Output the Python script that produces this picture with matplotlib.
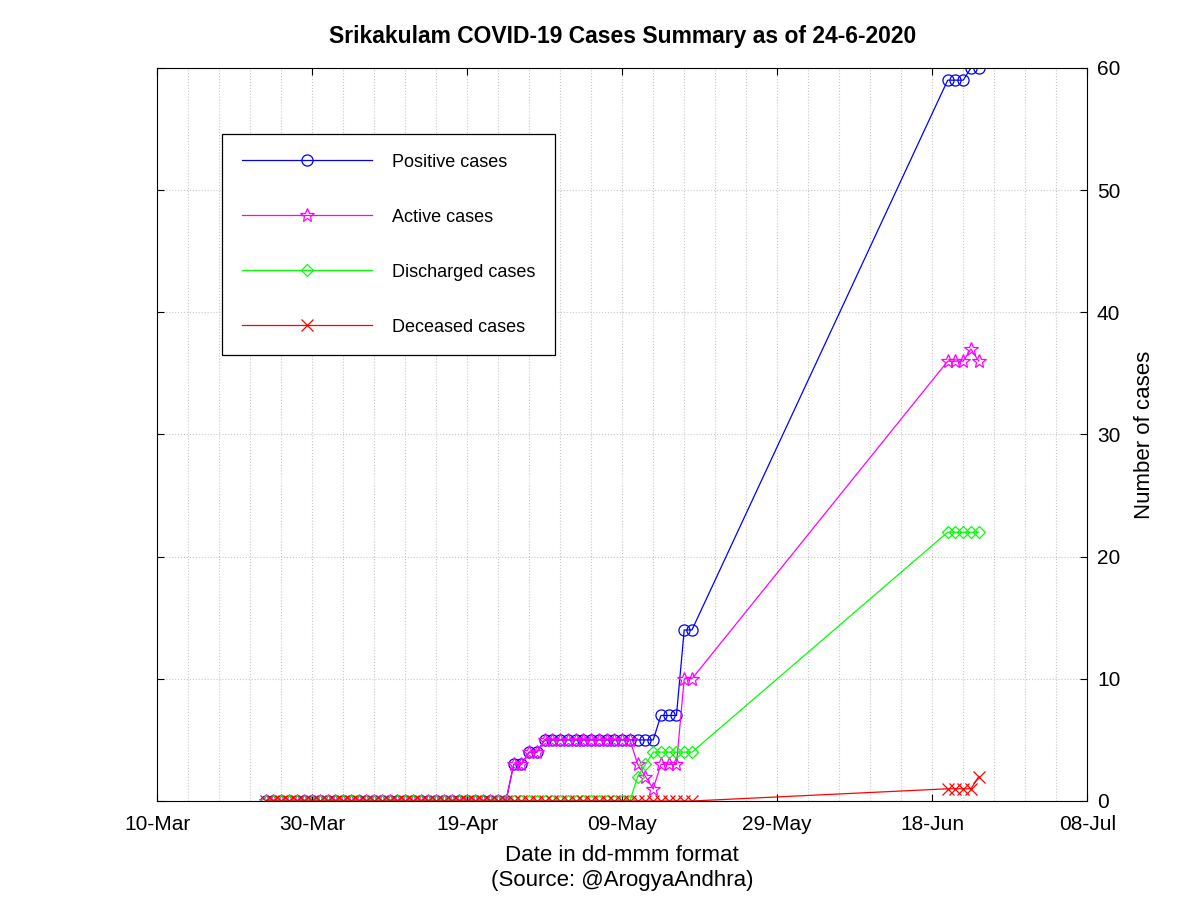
import matplotlib
matplotlib.use('Agg')
import matplotlib.pyplot as plt
import matplotlib.dates as mdates
import pandas as pd

plt.rcParams['font.family'] = ['Liberation Sans', 'DejaVu Sans']

# dates reported (daily 24-Mar..18-May, then 20-Jun..24-Jun)
dates = list(pd.date_range('2020-03-24', '2020-05-18')) + list(pd.date_range('2020-06-20', '2020-06-24'))

positive = [0, 0, 0, 0, 0, 0, 0, 0, 0, 0, 0, 0, 0, 0, 0, 0,
            0, 0, 0, 0, 0, 0, 0, 0, 0, 0, 0, 0, 0, 0, 0, 0,
            3, 3, 4, 4,
            5, 5, 5, 5, 5, 5, 5, 5, 5, 5, 5, 5, 5, 5, 5,
            7, 7, 7, 14, 14,
            59, 59, 59, 60, 60]
active = [0, 0, 0, 0, 0, 0, 0, 0, 0, 0, 0, 0, 0, 0, 0, 0,
          0, 0, 0, 0, 0, 0, 0, 0, 0, 0, 0, 0, 0, 0, 0, 0,
          3, 3, 4, 4,
          5, 5, 5, 5, 5, 5, 5, 5, 5, 5, 5, 5, 3, 2, 1,
          3, 3, 3, 10, 10,
          36, 36, 36, 37, 36]
discharged = [0, 0, 0, 0, 0, 0, 0, 0, 0, 0, 0, 0, 0, 0, 0, 0,
              0, 0, 0, 0, 0, 0, 0, 0, 0, 0, 0, 0, 0, 0, 0, 0,
              0, 0, 0, 0,
              0, 0, 0, 0, 0, 0, 0, 0, 0, 0, 0, 0, 2, 3, 4,
              4, 4, 4, 4, 4,
              22, 22, 22, 22, 22]
deceased = [0, 0, 0, 0, 0, 0, 0, 0, 0, 0, 0, 0, 0, 0, 0, 0,
            0, 0, 0, 0, 0, 0, 0, 0, 0, 0, 0, 0, 0, 0, 0, 0,
            0, 0, 0, 0,
            0, 0, 0, 0, 0, 0, 0, 0, 0, 0, 0, 0, 0, 0, 0,
            0, 0, 0, 0, 0,
            1, 1, 1, 1, 2]

fig = plt.figure(figsize=(12, 9), dpi=100)
ax = fig.add_axes([0.131, 0.110, 0.775, 0.8145])

ax.plot(dates, positive, color='blue', lw=0.9, marker='o', ms=8, mfc='none', mew=0.9, label='Positive cases')
ax.plot(dates, active, color='magenta', lw=0.9, marker='*', ms=10, mfc='none', mew=0.9, label='Active cases')
ax.plot(dates, discharged, color='lime', lw=0.9, marker='D', ms=6.5, mfc='none', mew=0.9, label='Discharged cases')
ax.plot(dates, deceased, color='red', lw=0.9, marker='x', ms=8, mew=0.9, label='Deceased cases')

ax.set_xlim(pd.Timestamp('2020-03-10'), pd.Timestamp('2020-07-08'))
ax.set_ylim(0, 60)
ax.set_xticks(pd.date_range('2020-03-10', '2020-07-08', freq='20D'))
ax.set_xticks(pd.date_range('2020-03-10', '2020-07-08', freq='4D'), minor=True)
ax.xaxis.set_major_formatter(mdates.DateFormatter('%d-%b'))
ax.set_yticks(range(0, 61, 10))

ax.yaxis.tick_right()
ax.yaxis.set_label_position('right')
ax.tick_params(axis='both', which='major', direction='in', top=True, left=True, right=True,
               labelleft=False, labelright=True, labelsize=15, length=5)
ax.tick_params(axis='x', which='major', pad=10)
ax.tick_params(axis='y', which='major', pad=7)
ax.tick_params(axis='x', which='minor', length=0)
ax.grid(True, which='major', color='#c8c8c8', linestyle=':', linewidth=0.8)
ax.grid(True, which='minor', axis='x', color='#c8c8c8', linestyle=':', linewidth=0.8)
ax.set_axisbelow(True)

ax.set_title('Srikakulam COVID-19 Cases Summary as of 24-6-2020', fontsize=16.5, fontweight='bold', pad=18)
ax.set_xlabel('Date in dd-mmm format\n(Source: @ArogyaAndhra)', fontsize=16, labelpad=8, linespacing=1.25)
ax.set_ylabel('Number of cases', fontsize=16, labelpad=10)

leg = ax.legend(loc='upper left', bbox_to_anchor=(0.0699, 0.910), borderaxespad=0,
                fontsize=13, handlelength=7.2, handletextpad=1.1, labelspacing=2.1,
                borderpad=1.1, fancybox=False, edgecolor='black', framealpha=1)
leg.get_frame().set_linewidth(0.9)

fig.savefig('out.png', dpi=100)
